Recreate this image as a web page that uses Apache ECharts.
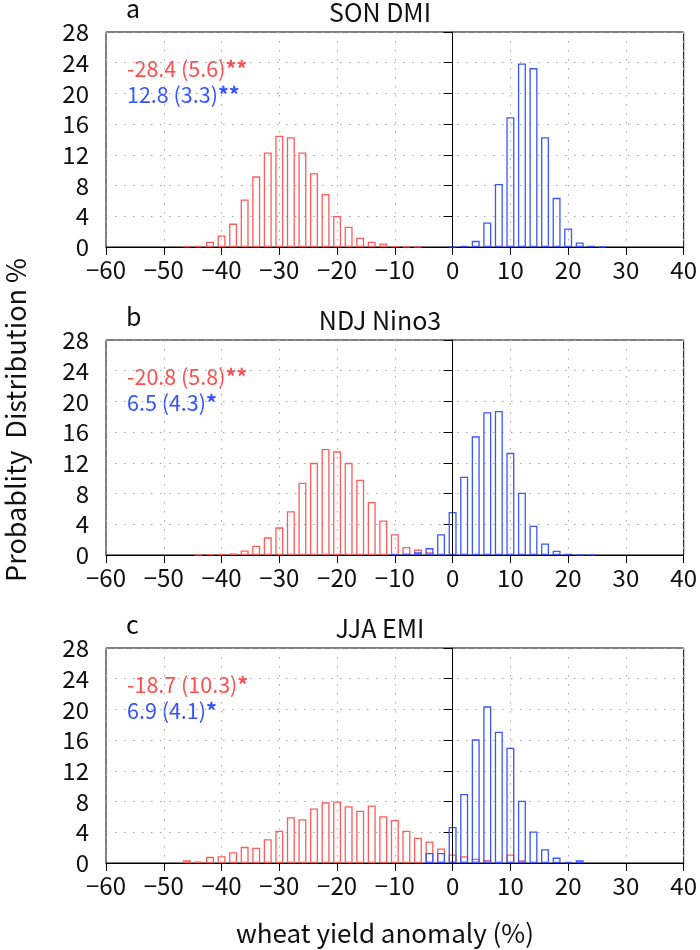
<!DOCTYPE html>
<html><head><meta charset="utf-8">
<script src="https://cdn.jsdelivr.net/npm/echarts@6/dist/echarts.min.js"></script>
<style>html,body{margin:0;padding:0;background:#fff}#c{width:700px;height:950px}</style>
</head><body><div id="c"></div>
<script>
// ---- data ----
const xTicks = [-60, -50, -40, -30, -20, -10, 0, 10, 20, 30, 40];
const yTicks = [0, 4, 8, 12, 16, 20, 24, 28];
const panelLetters = ['a', 'b', 'c'];
const panelTitles = ['SON DMI', 'NDJ Nino3', 'JJA EMI'];
const redStats = ['-28.4 (5.6)', '-20.8 (5.8)', '-18.7 (10.3)'];
const redStars = ['**', '**', '*'];
const blueStats = ['12.8 (3.3)', '6.5 (4.3)', '6.9 (4.1)'];
const blueStars = ['**', '*', '*'];
const yTitle = 'Probablity  Distribution %';
const xTitle = 'wheat yield anomaly (%)';

const aRedX = [-46,-44,-42,-40,-38,-36,-34,-32,-30,-28,-26,-24,-22,-20,-18,-16,-14,-12,-10,-8,-6];
const aRedY = [0.1,0.13,0.7,1.5,3.05,6.2,9.2,12.3,14.5,14.3,12.3,9.6,6.9,4.05,2.65,1.2,0.7,0.45,0.1,0.05,0.05];
const aBlueX = [0,2,4,6,8,10,12,14,16,18,20,22,24,26];
const aBlueY = [0.05,0.13,0.8,3.2,8.2,16.9,23.9,23.3,14.3,6.4,2.4,0.6,0.17,0.05];

const bRedX = [-44,-42,-40,-38,-36,-34,-32,-30,-28,-26,-24,-22,-20,-18,-16,-14,-12,-10,-8,-6,-4,-2];
const bRedY = [0.05,0.1,0.13,0.2,0.6,1.2,2.3,3.6,5.7,9.4,12.0,13.8,13.5,12.0,9.8,6.9,4.5,2.7,1.04,0.7,0.35,0.1];
const bBlueX = [-10,-8,-6,-4,-2,0,2,4,6,8,10,12,14,16,18,20,22,24];
const bBlueY = [0.1,0.17,0.35,0.9,2.7,5.6,10.2,15.45,18.6,18.75,13.3,8.1,3.8,1.5,0.56,0.17,0.05,0.05];

const cRedX = [-46,-44,-42,-40,-38,-36,-34,-32,-30,-28,-26,-24,-22,-20,-18,-16,-14,-12,-10,-8,-6,-4,-2,0,2,4,6,8,10,12];
const cRedY = [0.35,0.2,0.8,0.87,1.4,2.1,2.0,3.1,4.2,5.95,5.7,7.1,7.9,8.0,7.4,6.8,7.5,6.1,5.6,4.2,3.3,2.8,1.9,1.1,0.87,0.56,0.4,0.1,1.1,0.35];
const cBlueX = [-4,-2,0,2,4,6,8,10,12,14,16,18,20,22];
const cBlueY = [1.3,1.3,4.7,9.0,16.1,20.4,17.1,15.0,8.1,4.1,1.8,0.7,0.13,0.35];

const redX = [aRedX, bRedX, cRedX], redY = [aRedY, bRedY, cRedY];
const blueX = [aBlueX, bBlueX, cBlueX], blueY = [aBlueY, bBlueY, cBlueY];

// ---- styling / layout ----
const FONT = '"Noto Sans CJK JP", "Noto Sans", sans-serif';
const RED = '#ff5c5c', BLUE = '#3b57ff';
const RED_T = '#ff4d4d', BLUE_T = '#3552ff';
const gridTops = [32, 340, 648];
const gridH = 215, gridL = 106, gridW = 580;

const pair = (xs, ys) => xs.map((x, i) => [x, ys[i]]);
const fmtX = v => (v < 0 ? '\u2212' + Math.abs(v) : String(v));

const grids = [], xAxes = [], yAxes = [], series = [], graphics = [];
for (let p = 0; p < 3; p++) {
  grids.push({left: gridL, top: gridTops[p], width: gridW, height: gridH, show: true,
    borderColor: '#000', borderWidth: 1, backgroundColor: 'transparent'});
  xAxes.push({type: 'value', gridIndex: p, min: xTicks[0], max: xTicks[xTicks.length-1], interval: 10,
    axisLine: {show: true, onZero: false, lineStyle: {color: '#000', width: 1}},
    axisTick: {show: true, length: 8, lineStyle: {color: '#000'}},
    axisLabel: {formatter: fmtX, color: '#111', fontSize: 24, fontFamily: FONT, margin: 11},
    splitLine: {show: true, lineStyle: {color: '#a8a8a8', width: 1, type: [1.5, 7.5]}}});
  yAxes.push({type: 'value', gridIndex: p, min: yTicks[0], max: yTicks[yTicks.length-1], interval: 4,
    axisLine: {show: true, lineStyle: {color: '#000', width: 1}},
    axisTick: {show: true, length: 9, lineStyle: {color: '#000'}},
    axisLabel: {color: '#111', fontSize: 24, fontFamily: FONT, margin: 17},
    splitLine: {show: true, lineStyle: {color: '#a8a8a8', width: 1, type: [1.5, 7.5]}}});
  series.push({type: 'bar', xAxisIndex: p, yAxisIndex: p, data: pair(redX[p], redY[p]),
    barWidth: 8, barGap: '-100%', silent: true,
    itemStyle: {color: 'rgba(255,255,255,0)', borderColor: RED, borderWidth: 1.3}});
  series.push({type: 'bar', xAxisIndex: p, yAxisIndex: p, data: pair(blueX[p], blueY[p]),
    barWidth: 8, barGap: '-100%', silent: true,
    itemStyle: {color: 'rgba(255,255,255,0)', borderColor: BLUE, borderWidth: 1.3},
    markLine: {silent: true, symbol: 'none', label: {show: false},
      lineStyle: {color: '#000', width: 1, type: 'solid'}, data: [{xAxis: 0}]}});
  const base = gridTops[p] - 11;
  graphics.push({type: 'text', x: 126, y: base, style: {text: panelLetters[p], font: '25px ' + FONT, fill: '#111', verticalAlign: 'bottom'}});
  graphics.push({type: 'text', x: 380, y: base + 4, style: {text: panelTitles[p], font: '25px ' + FONT, fill: '#111', align: 'center', verticalAlign: 'bottom'}});
  graphics.push({type: 'text', x: 127, y: gridTops[p] + 37, style: {
    text: '{v|' + redStats[p] + '}{s|' + redStars[p] + '}', verticalAlign: 'middle',
    rich: {v: {font: '21.5px ' + FONT, fill: RED_T}, s: {font: 'bold 21.5px ' + FONT, fill: RED_T}}}});
  graphics.push({type: 'text', x: 127, y: gridTops[p] + 63, style: {
    text: '{v|' + blueStats[p] + '}{s|' + blueStars[p] + '}', verticalAlign: 'middle',
    rich: {v: {font: '21.5px ' + FONT, fill: BLUE_T}, s: {font: 'bold 21.5px ' + FONT, fill: BLUE_T}}}});
}
graphics.push({type: 'text', x: 16, y: 420, rotation: Math.PI / 2, style: {
  text: yTitle, font: '27px ' + FONT, fill: '#111', align: 'center', verticalAlign: 'middle'}});
graphics.push({type: 'text', x: 385, y: 933, style: {
  text: xTitle, font: '26px ' + FONT, fill: '#111', align: 'center', verticalAlign: 'middle'}});

const chart = echarts.init(document.getElementById('c'), null, {renderer: 'canvas'});
chart.setOption({animation: false, backgroundColor: '#fff', grid: grids, xAxis: xAxes, yAxis: yAxes, series: series, graphic: graphics});
</script></body></html>
